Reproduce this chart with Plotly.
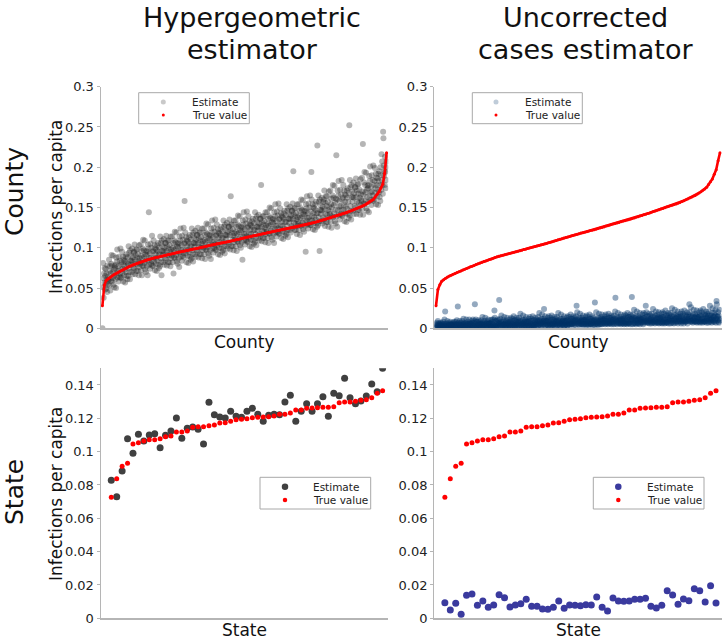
import plotly.graph_objects as go

# ---------------- DATA ----------------
# County level, sorted by true value (rank positions are spread evenly over [0, 1])
county_true_hyper = [
    0.0280, 0.0535, 0.0595, 0.0615, 0.0632, 0.0649, 0.0665, 0.0678, 0.0691, 0.0705,
    0.0718, 0.0731, 0.0743, 0.0755, 0.0766, 0.0776, 0.0786, 0.0795, 0.0804, 0.0813,
    0.0822, 0.0831, 0.0840, 0.0849, 0.0855, 0.0861, 0.0866, 0.0872, 0.0878, 0.0883,
    0.0889, 0.0895, 0.0901, 0.0906, 0.0912, 0.0918, 0.0924, 0.0930, 0.0935, 0.0941,
    0.0947, 0.0952, 0.0957, 0.0961, 0.0966, 0.0970, 0.0975, 0.0979, 0.0984, 0.0989,
    0.0993, 0.0999, 0.1005, 0.1011, 0.1016, 0.1022, 0.1028, 0.1034, 0.1039, 0.1044,
    0.1049, 0.1053, 0.1058, 0.1062, 0.1067, 0.1071, 0.1076, 0.1080, 0.1086, 0.1092,
    0.1098, 0.1104, 0.1109, 0.1115, 0.1121, 0.1127, 0.1133, 0.1138, 0.1143, 0.1148,
    0.1153, 0.1158, 0.1163, 0.1168, 0.1173, 0.1178, 0.1183, 0.1189, 0.1194, 0.1199,
    0.1204, 0.1209, 0.1214, 0.1219, 0.1224, 0.1229, 0.1233, 0.1238, 0.1243, 0.1247,
    0.1252, 0.1256, 0.1261, 0.1267, 0.1273, 0.1279, 0.1284, 0.1290, 0.1296, 0.1301,
    0.1307, 0.1313, 0.1320, 0.1327, 0.1334, 0.1341, 0.1348, 0.1355, 0.1362, 0.1369,
    0.1376, 0.1384, 0.1391, 0.1399, 0.1406, 0.1414, 0.1421, 0.1429, 0.1436, 0.1446,
    0.1455, 0.1465, 0.1474, 0.1484, 0.1493, 0.1503, 0.1513, 0.1523, 0.1538, 0.1554,
    0.1569, 0.1585, 0.1600, 0.1630, 0.1660, 0.1694, 0.1741, 0.1788, 0.1925, 0.2180,
]

county_est_hyper = [
    0.000, 0.051, 0.081, 0.062, 0.038, 0.068, 0.057, 0.075, 0.048, 0.065,
    0.074, 0.056, 0.049, 0.068, 0.061, 0.045, 0.078, 0.054, 0.064, 0.059,
    0.061, 0.085, 0.053, 0.071, 0.077, 0.047, 0.068, 0.059, 0.080, 0.091,
    0.058, 0.078, 0.070, 0.062, 0.090, 0.054, 0.073, 0.065, 0.051, 0.077,
    0.075, 0.061, 0.079, 0.050, 0.088, 0.068, 0.083, 0.098, 0.063, 0.071,
    0.077, 0.058, 0.089, 0.072, 0.064, 0.084, 0.068, 0.099, 0.062, 0.079,
    0.063, 0.082, 0.095, 0.069, 0.074, 0.089, 0.058, 0.085, 0.078, 0.066,
    0.073, 0.084, 0.057, 0.089, 0.082, 0.070, 0.092, 0.065, 0.078, 0.061,
    0.088, 0.080, 0.065, 0.102, 0.075, 0.094, 0.070, 0.061, 0.097, 0.084,
    0.090, 0.079, 0.084, 0.070, 0.099, 0.083, 0.067, 0.088, 0.075, 0.094,
    0.095, 0.074, 0.104, 0.085, 0.067, 0.091, 0.080, 0.098, 0.071, 0.088,
    0.098, 0.079, 0.071, 0.092, 0.084, 0.066, 0.103, 0.076, 0.087, 0.082,
    0.080, 0.104, 0.072, 0.090, 0.096, 0.066, 0.087, 0.078, 0.099, 0.110,
    0.077, 0.097, 0.089, 0.081, 0.109, 0.073, 0.092, 0.084, 0.070, 0.096,
    0.091, 0.077, 0.095, 0.066, 0.104, 0.084, 0.099, 0.144, 0.079, 0.087,
    0.093, 0.074, 0.105, 0.088, 0.080, 0.100, 0.084, 0.115, 0.078, 0.095,
    0.077, 0.096, 0.109, 0.083, 0.088, 0.103, 0.072, 0.099, 0.092, 0.080,
    0.087, 0.098, 0.071, 0.103, 0.096, 0.084, 0.106, 0.079, 0.092, 0.075,
    0.100, 0.092, 0.077, 0.114, 0.087, 0.106, 0.082, 0.066, 0.109, 0.096,
    0.102, 0.091, 0.096, 0.082, 0.111, 0.095, 0.079, 0.100, 0.087, 0.106,
    0.106, 0.085, 0.115, 0.096, 0.078, 0.102, 0.091, 0.109, 0.082, 0.099,
    0.109, 0.090, 0.082, 0.103, 0.095, 0.077, 0.114, 0.087, 0.098, 0.093,
    0.090, 0.114, 0.082, 0.100, 0.106, 0.068, 0.097, 0.088, 0.109, 0.120,
    0.087, 0.107, 0.099, 0.091, 0.119, 0.083, 0.102, 0.094, 0.080, 0.106,
    0.101, 0.087, 0.105, 0.076, 0.114, 0.094, 0.109, 0.124, 0.089, 0.097,
    0.103, 0.084, 0.115, 0.098, 0.090, 0.110, 0.094, 0.125, 0.088, 0.105,
    0.158, 0.106, 0.119, 0.093, 0.098, 0.113, 0.082, 0.109, 0.102, 0.090,
    0.097, 0.108, 0.081, 0.113, 0.106, 0.094, 0.116, 0.089, 0.102, 0.085,
    0.110, 0.102, 0.087, 0.124, 0.097, 0.116, 0.092, 0.083, 0.119, 0.106,
    0.112, 0.101, 0.106, 0.092, 0.121, 0.105, 0.089, 0.110, 0.097, 0.116,
    0.116, 0.095, 0.125, 0.106, 0.088, 0.112, 0.101, 0.119, 0.092, 0.109,
    0.119, 0.100, 0.092, 0.113, 0.105, 0.087, 0.124, 0.097, 0.108, 0.103,
    0.100, 0.124, 0.092, 0.110, 0.116, 0.086, 0.107, 0.098, 0.119, 0.130,
    0.097, 0.117, 0.109, 0.101, 0.129, 0.093, 0.112, 0.104, 0.090, 0.116,
    0.111, 0.097, 0.115, 0.086, 0.124, 0.104, 0.119, 0.134, 0.099, 0.107,
    0.113, 0.094, 0.125, 0.108, 0.100, 0.120, 0.104, 0.135, 0.098, 0.115,
    0.097, 0.116, 0.129, 0.103, 0.108, 0.123, 0.092, 0.119, 0.112, 0.100,
    0.107, 0.118, 0.091, 0.123, 0.116, 0.104, 0.126, 0.099, 0.112, 0.095,
    0.120, 0.112, 0.097, 0.134, 0.107, 0.126, 0.102, 0.093, 0.129, 0.116,
    0.122, 0.111, 0.116, 0.102, 0.131, 0.115, 0.099, 0.120, 0.107, 0.126,
    0.126, 0.105, 0.135, 0.116, 0.098, 0.122, 0.164, 0.129, 0.102, 0.119,
    0.129, 0.110, 0.102, 0.123, 0.115, 0.097, 0.134, 0.107, 0.118, 0.113,
    0.110, 0.134, 0.102, 0.120, 0.126, 0.096, 0.117, 0.108, 0.129, 0.140,
    0.107, 0.127, 0.119, 0.111, 0.139, 0.103, 0.122, 0.114, 0.100, 0.126,
    0.121, 0.107, 0.125, 0.085, 0.134, 0.114, 0.129, 0.144, 0.109, 0.117,
    0.123, 0.104, 0.135, 0.118, 0.110, 0.130, 0.114, 0.145, 0.108, 0.125,
    0.107, 0.126, 0.139, 0.113, 0.118, 0.133, 0.102, 0.129, 0.122, 0.110,
    0.117, 0.128, 0.101, 0.133, 0.126, 0.114, 0.136, 0.109, 0.122, 0.105,
    0.130, 0.122, 0.107, 0.144, 0.117, 0.136, 0.112, 0.103, 0.139, 0.126,
    0.132, 0.121, 0.126, 0.112, 0.141, 0.125, 0.109, 0.130, 0.117, 0.136,
    0.136, 0.115, 0.178, 0.126, 0.108, 0.132, 0.121, 0.139, 0.112, 0.129,
    0.139, 0.120, 0.112, 0.133, 0.125, 0.107, 0.144, 0.117, 0.128, 0.123,
    0.120, 0.144, 0.112, 0.130, 0.136, 0.106, 0.127, 0.118, 0.139, 0.150,
    0.117, 0.137, 0.129, 0.121, 0.149, 0.113, 0.132, 0.124, 0.110, 0.136,
    0.131, 0.117, 0.135, 0.106, 0.144, 0.124, 0.139, 0.154, 0.119, 0.127,
    0.133, 0.114, 0.145, 0.128, 0.120, 0.140, 0.124, 0.155, 0.118, 0.135,
    0.117, 0.136, 0.149, 0.123, 0.128, 0.143, 0.112, 0.139, 0.132, 0.120,
    0.127, 0.138, 0.111, 0.143, 0.136, 0.124, 0.146, 0.119, 0.132, 0.115,
    0.140, 0.132, 0.117, 0.154, 0.127, 0.146, 0.122, 0.113, 0.149, 0.136,
    0.142, 0.131, 0.136, 0.122, 0.151, 0.135, 0.119, 0.140, 0.127, 0.146,
    0.146, 0.125, 0.155, 0.136, 0.195, 0.142, 0.131, 0.149, 0.122, 0.139,
    0.149, 0.130, 0.122, 0.143, 0.135, 0.117, 0.154, 0.127, 0.138, 0.133,
    0.130, 0.154, 0.122, 0.140, 0.146, 0.116, 0.137, 0.128, 0.149, 0.160,
    0.127, 0.147, 0.139, 0.131, 0.159, 0.123, 0.142, 0.134, 0.120, 0.146,
    0.141, 0.127, 0.145, 0.095, 0.154, 0.134, 0.149, 0.164, 0.129, 0.137,
    0.143, 0.124, 0.155, 0.138, 0.130, 0.150, 0.134, 0.165, 0.128, 0.145,
    0.128, 0.194, 0.160, 0.134, 0.139, 0.154, 0.123, 0.150, 0.143, 0.131,
    0.138, 0.149, 0.122, 0.154, 0.147, 0.135, 0.157, 0.130, 0.143, 0.126,
    0.227, 0.143, 0.128, 0.165, 0.138, 0.157, 0.133, 0.096, 0.160, 0.147,
    0.153, 0.142, 0.147, 0.133, 0.162, 0.146, 0.130, 0.151, 0.138, 0.157,
    0.160, 0.135, 0.171, 0.148, 0.127, 0.156, 0.142, 0.164, 0.132, 0.152,
    0.164, 0.141, 0.132, 0.157, 0.147, 0.126, 0.170, 0.138, 0.151, 0.145,
    0.142, 0.171, 0.132, 0.154, 0.161, 0.125, 0.150, 0.139, 0.165, 0.178,
    0.138, 0.162, 0.153, 0.143, 0.177, 0.133, 0.156, 0.147, 0.130, 0.161,
    0.215, 0.139, 0.160, 0.126, 0.171, 0.147, 0.165, 0.183, 0.141, 0.151,
    0.158, 0.135, 0.172, 0.152, 0.142, 0.166, 0.147, 0.184, 0.140, 0.160,
    0.139, 0.162, 0.178, 0.147, 0.153, 0.171, 0.133, 0.166, 0.157, 0.143,
    0.151, 0.165, 0.132, 0.171, 0.162, 0.148, 0.174, 0.142, 0.157, 0.137,
    0.168, 0.252, 0.140, 0.184, 0.152, 0.175, 0.146, 0.135, 0.178, 0.163,
    0.170, 0.157, 0.163, 0.146, 0.181, 0.162, 0.142, 0.168, 0.152, 0.175,
    0.175, 0.150, 0.186, 0.163, 0.142, 0.171, 0.157, 0.179, 0.147, 0.167,
    0.179, 0.156, 0.147, 0.172, 0.162, 0.141, 0.185, 0.153, 0.166, 0.160,
    0.158, 0.187, 0.148, 0.170, 0.229, 0.141, 0.166, 0.155, 0.181, 0.194,
    0.154, 0.178, 0.169, 0.159, 0.193, 0.149, 0.172, 0.163, 0.146, 0.177,
    0.174, 0.157, 0.178, 0.144, 0.189, 0.165, 0.183, 0.201, 0.159, 0.169,
    0.176, 0.153, 0.190, 0.170, 0.160, 0.184, 0.165, 0.202, 0.158, 0.178,
    0.160, 0.183, 0.199, 0.168, 0.174, 0.192, 0.154, 0.187, 0.178, 0.164,
    0.172, 0.186, 0.153, 0.192, 0.183, 0.169, 0.195, 0.163, 0.178, 0.158,
    0.200, 0.190, 0.172, 0.216, 0.184, 0.207, 0.178, 0.167, 0.244, 0.236,
    0.202, 0.189, 0.195, 0.178, 0.213, 0.194, 0.174, 0.200, 0.184, 0.207,
]

county_true_unc = [
    0.0280, 0.0482, 0.0540, 0.0585, 0.0603, 0.0620, 0.0638, 0.0649, 0.0660, 0.0671,
    0.0681, 0.0692, 0.0703, 0.0713, 0.0724, 0.0734, 0.0744, 0.0753, 0.0763, 0.0772,
    0.0781, 0.0791, 0.0800, 0.0810, 0.0819, 0.0828, 0.0836, 0.0845, 0.0854, 0.0862,
    0.0871, 0.0880, 0.0888, 0.0895, 0.0901, 0.0907, 0.0913, 0.0919, 0.0926, 0.0932,
    0.0938, 0.0944, 0.0951, 0.0957, 0.0964, 0.0970, 0.0977, 0.0983, 0.0990, 0.0996,
    0.1003, 0.1009, 0.1015, 0.1022, 0.1028, 0.1034, 0.1041, 0.1047, 0.1053, 0.1061,
    0.1068, 0.1075, 0.1083, 0.1090, 0.1098, 0.1105, 0.1112, 0.1120, 0.1126, 0.1134,
    0.1141, 0.1148, 0.1155, 0.1161, 0.1168, 0.1175, 0.1182, 0.1188, 0.1194, 0.1200,
    0.1206, 0.1213, 0.1219, 0.1225, 0.1231, 0.1238, 0.1245, 0.1252, 0.1259, 0.1266,
    0.1274, 0.1281, 0.1288, 0.1295, 0.1302, 0.1308, 0.1315, 0.1322, 0.1328, 0.1335,
    0.1341, 0.1348, 0.1355, 0.1362, 0.1370, 0.1378, 0.1386, 0.1393, 0.1401, 0.1409,
    0.1417, 0.1425, 0.1433, 0.1441, 0.1449, 0.1457, 0.1465, 0.1473, 0.1481, 0.1488,
    0.1496, 0.1505, 0.1513, 0.1521, 0.1529, 0.1537, 0.1545, 0.1553, 0.1562, 0.1573,
    0.1584, 0.1595, 0.1606, 0.1617, 0.1628, 0.1639, 0.1650, 0.1664, 0.1680, 0.1696,
    0.1713, 0.1729, 0.1750, 0.1785, 0.1820, 0.1855, 0.1912, 0.1970, 0.2080, 0.2180,
]

county_est_unc = [
    0.005, 0.001, 0.007, 0.003, 0.001, 0.004, 0.009, 0.002, 0.006, 0.001,
    0.003, 0.001, 0.006, 0.002, 0.004, 0.007, 0.001, 0.003, 0.004, 0.006,
    0.002, 0.005, 0.001, 0.008, 0.003, 0.002, 0.005, 0.011, 0.002, 0.021,
    0.002, 0.005, 0.003, 0.001, 0.006, 0.003, 0.009, 0.002, 0.005, 0.002,
    0.004, 0.007, 0.002, 0.002, 0.005, 0.008, 0.001, 0.004, 0.005, 0.002,
    0.005, 0.002, 0.004, 0.007, 0.002, 0.005, 0.001, 0.008, 0.004, 0.002,
    0.006, 0.002, 0.008, 0.003, 0.001, 0.004, 0.010, 0.002, 0.006, 0.027,
    0.004, 0.002, 0.007, 0.002, 0.005, 0.009, 0.001, 0.003, 0.004, 0.007,
    0.002, 0.005, 0.001, 0.009, 0.004, 0.002, 0.006, 0.012, 0.003, 0.005,
    0.002, 0.006, 0.003, 0.001, 0.007, 0.004, 0.011, 0.003, 0.005, 0.002,
    0.005, 0.008, 0.002, 0.003, 0.006, 0.011, 0.001, 0.004, 0.006, 0.002,
    0.006, 0.003, 0.005, 0.009, 0.002, 0.007, 0.001, 0.011, 0.004, 0.003,
    0.007, 0.002, 0.009, 0.030, 0.001, 0.005, 0.011, 0.003, 0.008, 0.002,
    0.004, 0.002, 0.008, 0.003, 0.006, 0.010, 0.001, 0.004, 0.005, 0.008,
    0.003, 0.006, 0.001, 0.010, 0.005, 0.002, 0.007, 0.014, 0.003, 0.005,
    0.002, 0.007, 0.004, 0.001, 0.009, 0.005, 0.013, 0.003, 0.006, 0.002,
    0.006, 0.009, 0.002, 0.003, 0.007, 0.011, 0.002, 0.005, 0.006, 0.002,
    0.006, 0.003, 0.006, 0.010, 0.002, 0.007, 0.002, 0.011, 0.005, 0.003,
    0.008, 0.002, 0.011, 0.004, 0.001, 0.022, 0.013, 0.003, 0.009, 0.002,
    0.005, 0.002, 0.009, 0.003, 0.007, 0.011, 0.002, 0.004, 0.006, 0.010,
    0.035, 0.007, 0.002, 0.012, 0.005, 0.003, 0.008, 0.016, 0.004, 0.006,
    0.003, 0.008, 0.004, 0.002, 0.010, 0.005, 0.014, 0.004, 0.007, 0.003,
    0.006, 0.010, 0.002, 0.004, 0.008, 0.013, 0.002, 0.005, 0.007, 0.003,
    0.007, 0.004, 0.006, 0.011, 0.003, 0.008, 0.002, 0.013, 0.006, 0.004,
    0.009, 0.003, 0.012, 0.005, 0.002, 0.007, 0.015, 0.004, 0.010, 0.003,
    0.006, 0.003, 0.010, 0.004, 0.008, 0.013, 0.002, 0.005, 0.007, 0.011,
    0.004, 0.008, 0.002, 0.013, 0.006, 0.003, 0.009, 0.018, 0.004, 0.007,
    0.003, 0.009, 0.005, 0.002, 0.011, 0.006, 0.016, 0.004, 0.008, 0.003,
    0.007, 0.011, 0.003, 0.004, 0.009, 0.014, 0.002, 0.006, 0.008, 0.003,
    0.008, 0.004, 0.007, 0.012, 0.003, 0.009, 0.002, 0.014, 0.006, 0.004,
    0.009, 0.003, 0.012, 0.005, 0.002, 0.007, 0.015, 0.004, 0.010, 0.003,
    0.006, 0.003, 0.010, 0.004, 0.008, 0.013, 0.002, 0.005, 0.007, 0.011,
    0.005, 0.009, 0.003, 0.014, 0.007, 0.004, 0.010, 0.019, 0.005, 0.008,
    0.004, 0.010, 0.006, 0.003, 0.012, 0.007, 0.017, 0.005, 0.009, 0.004,
    0.008, 0.012, 0.024, 0.005, 0.010, 0.015, 0.003, 0.007, 0.009, 0.004,
    0.009, 0.005, 0.008, 0.013, 0.004, 0.010, 0.003, 0.015, 0.007, 0.005,
    0.010, 0.004, 0.013, 0.006, 0.003, 0.008, 0.016, 0.005, 0.011, 0.004,
    0.007, 0.004, 0.011, 0.005, 0.009, 0.014, 0.003, 0.006, 0.008, 0.012,
    0.005, 0.009, 0.003, 0.014, 0.007, 0.004, 0.010, 0.019, 0.005, 0.008,
    0.004, 0.010, 0.006, 0.003, 0.012, 0.007, 0.017, 0.005, 0.009, 0.004,
    0.008, 0.012, 0.004, 0.005, 0.010, 0.015, 0.003, 0.007, 0.009, 0.004,
    0.009, 0.005, 0.008, 0.013, 0.004, 0.010, 0.003, 0.015, 0.007, 0.005,
    0.011, 0.005, 0.014, 0.007, 0.004, 0.009, 0.017, 0.006, 0.012, 0.005,
    0.008, 0.005, 0.012, 0.006, 0.010, 0.015, 0.004, 0.007, 0.009, 0.013,
    0.006, 0.010, 0.004, 0.015, 0.008, 0.028, 0.011, 0.020, 0.006, 0.009,
    0.005, 0.011, 0.007, 0.004, 0.013, 0.008, 0.018, 0.006, 0.010, 0.005,
    0.009, 0.013, 0.005, 0.006, 0.011, 0.016, 0.004, 0.008, 0.010, 0.005,
    0.010, 0.006, 0.009, 0.014, 0.005, 0.011, 0.004, 0.016, 0.008, 0.006,
    0.011, 0.005, 0.014, 0.007, 0.004, 0.009, 0.017, 0.006, 0.012, 0.005,
    0.008, 0.005, 0.012, 0.006, 0.010, 0.015, 0.004, 0.007, 0.009, 0.013,
    0.006, 0.010, 0.004, 0.032, 0.008, 0.005, 0.011, 0.020, 0.006, 0.009,
    0.005, 0.011, 0.007, 0.004, 0.013, 0.008, 0.018, 0.006, 0.010, 0.005,
    0.010, 0.014, 0.005, 0.007, 0.012, 0.017, 0.005, 0.009, 0.011, 0.006,
    0.011, 0.007, 0.010, 0.015, 0.006, 0.012, 0.005, 0.017, 0.009, 0.007,
    0.012, 0.006, 0.015, 0.008, 0.005, 0.010, 0.018, 0.007, 0.013, 0.006,
    0.009, 0.006, 0.013, 0.007, 0.011, 0.016, 0.005, 0.008, 0.010, 0.014,
    0.007, 0.011, 0.005, 0.016, 0.009, 0.006, 0.012, 0.021, 0.038, 0.010,
    0.006, 0.012, 0.008, 0.005, 0.014, 0.009, 0.019, 0.007, 0.011, 0.006,
    0.010, 0.014, 0.006, 0.007, 0.012, 0.017, 0.005, 0.009, 0.011, 0.006,
    0.011, 0.007, 0.010, 0.015, 0.006, 0.012, 0.005, 0.017, 0.009, 0.007,
    0.013, 0.006, 0.016, 0.008, 0.005, 0.011, 0.019, 0.007, 0.014, 0.006,
    0.010, 0.006, 0.014, 0.007, 0.012, 0.017, 0.005, 0.008, 0.011, 0.015,
    0.039, 0.012, 0.005, 0.017, 0.010, 0.006, 0.013, 0.023, 0.007, 0.011,
    0.006, 0.013, 0.009, 0.005, 0.015, 0.010, 0.021, 0.007, 0.012, 0.006,
    0.011, 0.015, 0.006, 0.008, 0.013, 0.019, 0.005, 0.010, 0.012, 0.007,
    0.012, 0.008, 0.011, 0.017, 0.007, 0.013, 0.005, 0.019, 0.010, 0.008,
    0.013, 0.007, 0.017, 0.009, 0.028, 0.011, 0.020, 0.008, 0.015, 0.007,
    0.010, 0.007, 0.015, 0.008, 0.012, 0.018, 0.006, 0.009, 0.011, 0.016,
    0.008, 0.012, 0.006, 0.018, 0.010, 0.007, 0.014, 0.024, 0.008, 0.011,
    0.007, 0.014, 0.009, 0.006, 0.016, 0.010, 0.021, 0.008, 0.013, 0.007,
    0.012, 0.017, 0.007, 0.008, 0.014, 0.020, 0.006, 0.011, 0.013, 0.007,
    0.013, 0.008, 0.012, 0.018, 0.007, 0.014, 0.006, 0.020, 0.011, 0.008,
    0.014, 0.007, 0.018, 0.010, 0.006, 0.012, 0.022, 0.008, 0.016, 0.007,
    0.011, 0.007, 0.016, 0.008, 0.013, 0.019, 0.006, 0.010, 0.012, 0.017,
    0.009, 0.013, 0.006, 0.019, 0.011, 0.007, 0.015, 0.025, 0.009, 0.012,
    0.007, 0.015, 0.010, 0.006, 0.017, 0.011, 0.023, 0.009, 0.013, 0.007,
    0.012, 0.017, 0.008, 0.009, 0.015, 0.021, 0.006, 0.011, 0.014, 0.008,
    0.014, 0.009, 0.012, 0.018, 0.008, 0.015, 0.006, 0.021, 0.011, 0.009,
    0.015, 0.008, 0.018, 0.010, 0.006, 0.012, 0.022, 0.009, 0.016, 0.008,
    0.011, 0.008, 0.016, 0.009, 0.014, 0.020, 0.006, 0.010, 0.012, 0.017,
    0.009, 0.014, 0.030, 0.020, 0.011, 0.008, 0.015, 0.026, 0.009, 0.013,
    0.008, 0.015, 0.010, 0.007, 0.017, 0.011, 0.023, 0.009, 0.014, 0.008,
    0.013, 0.018, 0.008, 0.009, 0.016, 0.022, 0.007, 0.012, 0.014, 0.008,
    0.014, 0.009, 0.013, 0.020, 0.008, 0.016, 0.007, 0.022, 0.012, 0.009,
    0.016, 0.008, 0.020, 0.011, 0.007, 0.013, 0.024, 0.009, 0.017, 0.008,
    0.012, 0.008, 0.017, 0.009, 0.015, 0.021, 0.007, 0.011, 0.013, 0.018,
    0.009, 0.015, 0.007, 0.021, 0.012, 0.008, 0.016, 0.028, 0.010, 0.013,
    0.008, 0.016, 0.011, 0.007, 0.019, 0.012, 0.025, 0.010, 0.015, 0.008,
    0.014, 0.019, 0.008, 0.010, 0.016, 0.023, 0.007, 0.012, 0.034, 0.030,
    0.015, 0.010, 0.014, 0.020, 0.008, 0.016, 0.007, 0.023, 0.012, 0.010,
]

# State level, sorted by true value
state_true = [
    0.0726, 0.0838, 0.0912, 0.0930, 0.1046, 0.1054, 0.1064, 0.1072, 0.1072, 0.1078,
    0.1090, 0.1094, 0.1118, 0.1118, 0.1124, 0.1146, 0.1150, 0.1150, 0.1156, 0.1160,
    0.1172, 0.1174, 0.1182, 0.1192, 0.1194, 0.1198, 0.1204, 0.1206, 0.1208, 0.1210,
    0.1214, 0.1224, 0.1224, 0.1232, 0.1250, 0.1250, 0.1260, 0.1262, 0.1264, 0.1266,
    0.1266, 0.1270, 0.1294, 0.1298, 0.1298, 0.1302, 0.1308, 0.1312, 0.1324, 0.1350,
    0.1366,
]
state_est_hyper = [
    0.0828, 0.0730, 0.0884, 0.1078, 0.0990, 0.1104, 0.1064, 0.1100, 0.1108, 0.1024,
    0.1098, 0.1124, 0.1202, 0.1080, 0.1140, 0.1148, 0.1134, 0.1046, 0.1296, 0.1222,
    0.1208, 0.1202, 0.1242, 0.1212, 0.1206, 0.1242, 0.1260, 0.1224, 0.1182, 0.1218,
    0.1224, 0.1222, 0.1298, 0.1338, 0.1182, 0.1242, 0.1288, 0.1242, 0.1288, 0.1330,
    0.1212, 0.1350, 0.1336, 0.1440, 0.1324, 0.1288, 0.1304, 0.1334, 0.1406, 0.1360,
    0.1500,
]
state_est_unc = [
    0.0094, 0.0050, 0.0090, 0.0024, 0.0138, 0.0146, 0.0078, 0.0104, 0.0066, 0.0080,
    0.0142, 0.0124, 0.0068, 0.0080, 0.0088, 0.0114, 0.0072, 0.0072, 0.0056, 0.0054,
    0.0066, 0.0104, 0.0060, 0.0080, 0.0078, 0.0076, 0.0082, 0.0080, 0.0128, 0.0066,
    0.0044, 0.0122, 0.0104, 0.0102, 0.0104, 0.0114, 0.0114, 0.0120, 0.0072, 0.0062,
    0.0078, 0.0166, 0.0140, 0.0084, 0.0116, 0.0106, 0.0178, 0.0166, 0.0098, 0.0196,
    0.0092,
]

y_ticks_county = [0, 0.05, 0.1, 0.15, 0.2, 0.25, 0.3]
y_ticks_state = [0, 0.02, 0.04, 0.06, 0.08, 0.1, 0.12, 0.14]
legend_labels = ["Estimate", "True value"]

# ---------------- FIGURE ----------------
W, H = 724, 639
FONT = "DejaVu Sans"
RED = "#ff0000"
HYPER_CLOUD = "rgba(30,30,30,0.33)"
UNC_CLOUD = "rgba(0,51,102,0.42)"
HYPER_STATE = "#404040"
UNC_STATE = "#3a3a9e"


def rank(n):
    return [i / (n - 1) for i in range(n)]


def px_x(a, b):
    return [a / W, b / W]


def px_y(top, bottom):
    return [1 - bottom / H, 1 - top / H]


fig = go.Figure()

# --- top-left: hypergeometric, county
fig.add_trace(go.Scatter(
    x=rank(len(county_est_hyper)), y=county_est_hyper, mode="markers",
    marker=dict(size=6, color=HYPER_CLOUD, line=dict(width=0)),
    name="Estimate", showlegend=False, xaxis="x", yaxis="y"))
fig.add_trace(go.Scatter(
    x=rank(len(county_true_hyper)), y=county_true_hyper, mode="lines+markers",
    line=dict(color=RED, width=2.6), marker=dict(size=3, color=RED),
    name="True value", showlegend=False, xaxis="x", yaxis="y"))

# --- top-right: uncorrected, county
fig.add_trace(go.Scatter(
    x=rank(len(county_est_unc)), y=county_est_unc, mode="markers",
    marker=dict(size=6, color=UNC_CLOUD, line=dict(width=0)),
    name="Estimate", showlegend=False, xaxis="x2", yaxis="y2"))
fig.add_trace(go.Scatter(
    x=rank(len(county_true_unc)), y=county_true_unc, mode="lines+markers",
    line=dict(color=RED, width=2.6), marker=dict(size=3, color=RED),
    name="True value", showlegend=False, xaxis="x2", yaxis="y2"))

# --- bottom-left: hypergeometric, state
idx = list(range(len(state_true)))
fig.add_trace(go.Scatter(
    x=idx, y=state_est_hyper, mode="markers", marker=dict(size=7, color=HYPER_STATE),
    name="Estimate", showlegend=False, xaxis="x3", yaxis="y3"))
fig.add_trace(go.Scatter(
    x=idx, y=state_true, mode="markers", marker=dict(size=5, color=RED),
    name="True value", showlegend=False, xaxis="x3", yaxis="y3"))

# --- bottom-right: uncorrected, state
fig.add_trace(go.Scatter(
    x=idx, y=state_est_unc, mode="markers", marker=dict(size=7, color=UNC_STATE),
    name="Estimate", showlegend=False, xaxis="x4", yaxis="y4"))
fig.add_trace(go.Scatter(
    x=idx, y=state_true, mode="markers", marker=dict(size=5, color=RED),
    name="True value", showlegend=False, xaxis="x4", yaxis="y4"))

SPINE = "#b5b5b5"
tickfont = dict(family=FONT, size=13, color="#222")

xcommon = dict(showgrid=False, zeroline=False, showticklabels=False, ticks="",
               showline=True, linecolor=SPINE, linewidth=1.2, fixedrange=True,
               automargin=False)
ycommon = dict(showgrid=False, zeroline=False, ticks="outside", ticklen=3,
               tickcolor=SPINE, tickwidth=1, showline=True, linecolor=SPINE,
               linewidth=1.2, tickfont=tickfont, fixedrange=True, automargin=False)

dom_xl = px_x(100.7, 388.3)
dom_xr = px_x(434.3, 721.7)
dom_yt = px_y(86.7, 328.3)
dom_yb = px_y(368.3, 618.3)

top_range = [-0.006, 1.006]
st_range = [-1.95, len(state_true) - 1 + 1.05]

fig.update_layout(
    template="none",
    width=W, height=H, autosize=False,
    margin=dict(l=0, r=0, t=0, b=0, pad=0, autoexpand=False),
    paper_bgcolor="white", plot_bgcolor="white",
    font=dict(family=FONT, color="#222"),
    showlegend=False,
    xaxis=dict(domain=dom_xl, range=top_range, anchor="y", **xcommon),
    yaxis=dict(domain=dom_yt, range=[0, 0.3], anchor="x", tickvals=y_ticks_county, **ycommon),
    xaxis2=dict(domain=dom_xr, range=top_range, anchor="y2", **xcommon),
    yaxis2=dict(domain=dom_yt, range=[0, 0.3], anchor="x2", tickvals=y_ticks_county, **ycommon),
    xaxis3=dict(domain=dom_xl, range=st_range, anchor="y3", **xcommon),
    yaxis3=dict(domain=dom_yb, range=[0, 0.15], anchor="x3", tickvals=y_ticks_state, **ycommon),
    xaxis4=dict(domain=dom_xr, range=st_range, anchor="y4", **xcommon),
    yaxis4=dict(domain=dom_yb, range=[0, 0.15], anchor="x4", tickvals=y_ticks_state, **ycommon),
)

ann = []
shapes = []


def add_text(text, xp, yp, size, angle=0, xanchor="center", yanchor="middle", color="#111"):
    ann.append(dict(text=text, x=xp / W, y=1 - yp / H, xref="paper", yref="paper",
                    showarrow=False, textangle=angle, xanchor=xanchor, yanchor=yanchor,
                    font=dict(family=FONT, size=size, color=color)))


def add_dot(cx, cy, d, color):
    r = d / 2
    shapes.append(dict(type="circle", xref="paper", yref="paper",
                       x0=(cx - r) / W, x1=(cx + r) / W,
                       y0=1 - (cy + r) / H, y1=1 - (cy - r) / H,
                       fillcolor=color, line=dict(width=0), layer="above"))


def add_legend(left, top, right, bottom, mx, tx, est_color, est_d, true_d):
    shapes.append(dict(type="rect", xref="paper", yref="paper",
                       x0=left / W, x1=right / W, y0=1 - bottom / H, y1=1 - top / H,
                       fillcolor="white", line=dict(color="#a8a8a8", width=1), layer="above"))
    y1 = top + 0.30 * (bottom - top)
    y2 = top + 0.72 * (bottom - top)
    add_dot(mx, y1, est_d, est_color)
    add_dot(mx, y2, true_d, RED)
    add_text(legend_labels[0], tx, y1, 10.5, xanchor="left", color="#222")
    add_text(legend_labels[1], tx, y2, 10.5, xanchor="left", color="#222")


add_legend(138.7, 92.7, 249.3, 123.7, 163.3, 189.5, "rgba(60,60,60,0.28)", 5, 3)
add_legend(472.3, 92.7, 582.3, 123.7, 496.0, 522.5, "rgba(0,51,102,0.25)", 5, 3)
add_legend(260.0, 477.3, 370.7, 509.0, 285.0, 311.0, HYPER_STATE, 6.5, 4.5)
add_legend(593.3, 477.3, 704.0, 509.0, 618.3, 644.5, UNC_STATE, 6.5, 4.5)

add_text("Hypergeometric", 252, 17.5, 27)
add_text("estimator", 252, 49.5, 27)
add_text("Uncorrected", 585, 17.5, 27)
add_text("cases estimator", 585, 49.5, 27)
add_text("County", 14, 192, 25, angle=-90)
add_text("State", 14, 492, 25, angle=-90)
add_text("Infections per capita", 56, 207, 17, angle=-90)
add_text("Infections per capita", 56, 494, 17, angle=-90)
add_text("County", 244, 342, 17)
add_text("County", 578, 342, 17)
add_text("State", 244, 630, 17)
add_text("State", 578, 630, 17)
fig.update_layout(annotations=ann, shapes=shapes)

fig.write_html(
    "out.html",
    config={"displayModeBar": False, "staticPlot": True},
    post_script=("document.body.style.margin='0';"
                 "document.body.style.overflow='hidden';"
                 "document.documentElement.style.overflow='hidden';"),
)
